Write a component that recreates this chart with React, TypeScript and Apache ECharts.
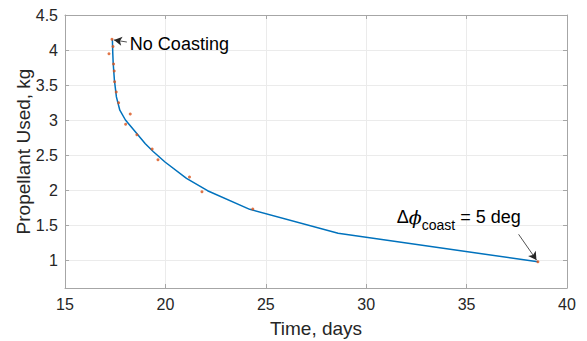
import React, { useEffect, useRef } from "react";
import * as echarts from "echarts";

const lineTime = [17.36, 17.38, 17.4, 17.46, 17.56, 17.73, 18.01, 18.45, 19.0, 19.39, 19.98, 21.05, 22.1, 24.2, 28.6, 38.55];
const lineProp = [4.15, 3.95, 3.81, 3.57, 3.33, 3.14, 3.0, 2.85, 2.66, 2.55, 2.4, 2.167, 1.99, 1.724, 1.381, 0.975];

const dotTime = [17.34, 17.19, 17.39, 17.42, 17.45, 17.47, 17.55, 17.67, 18.25, 18.02, 18.58, 19.34, 19.63, 21.2, 21.82, 24.35, 38.55];
const dotProp = [4.153, 3.947, 4.05, 3.8, 3.7, 3.547, 3.4, 3.247, 3.086, 2.94, 2.79, 2.586, 2.433, 2.186, 1.976, 1.729, 0.976];

const yTicks = [1, 1.5, 2, 2.5, 3, 3.5, 4, 4.5];
const xMin = 15, xMax = 40, xStep = 5;
const yMin = 0.6, yMax = 4.5, yStep = 0.3;

const FONT = "'Liberation Sans', Arial, Helvetica, sans-serif";
const TXT = "#262626";
const AX = "#a6a6a6";
const GRIDC = "#ebebeb";

export default function App() {
  const ref = useRef<HTMLDivElement>(null);
  useEffect(() => {
    if (!ref.current) return;
    const chart = echarts.init(ref.current, undefined, { renderer: "svg" });
    const axisCommon = {
      type: "value" as const,
      axisLine: { show: true, lineStyle: { color: AX, width: 1 } },
      axisTick: { show: true, inside: true, length: 4, lineStyle: { color: AX } },
    };
    chart.setOption({
      animation: false,
      textStyle: { fontFamily: FONT },
      grid: { left: 65, right: 20, top: 15, bottom: 53, containLabel: false, outerBoundsMode: "none" },
      xAxis: [
        {
          ...axisCommon,
          min: xMin,
          max: xMax,
          interval: xStep,
          position: "bottom",
          name: "Time, days",
          nameLocation: "middle",
          nameGap: 31,
          nameMoveOverlap: false,
          nameTextStyle: { color: TXT, fontSize: 19, fontFamily: FONT },
          axisLabel: { color: TXT, fontSize: 16, margin: 8, fontFamily: FONT },
          splitLine: { show: true, lineStyle: { color: GRIDC, width: 1 } },
        },
        {
          ...axisCommon,
          min: xMin,
          max: xMax,
          interval: xStep,
          position: "top",
          axisLabel: { show: false },
          splitLine: { show: false },
        },
      ],
      yAxis: [
        {
          ...axisCommon,
          min: yMin,
          max: yMax,
          interval: yStep,
          position: "left",
          name: "Propellant Used, kg",
          nameLocation: "middle",
          nameGap: 32,
          nameMoveOverlap: false,
          nameTextStyle: { color: TXT, fontSize: 19, fontFamily: FONT },
          axisTick: { show: true, inside: true, length: 4, lineStyle: { color: AX }, customValues: yTicks },
          axisLabel: { color: TXT, fontSize: 16, margin: 7, fontFamily: FONT, customValues: yTicks },
          splitLine: { show: false },
        },
        {
          ...axisCommon,
          min: yMin,
          max: yMax,
          interval: yStep,
          position: "right",
          axisTick: { show: true, inside: true, length: 4, lineStyle: { color: AX }, customValues: yTicks },
          axisLabel: { show: false, customValues: yTicks },
          splitLine: { show: false },
        },
      ],
      series: [
        {
          type: "line",
          silent: true,
          data: [],
          z: 0,
          markLine: {
            silent: true,
            z: 0,
            symbol: "none",
            label: { show: false },
            lineStyle: { color: GRIDC, width: 1, type: "solid" },
            data: yTicks.slice(0, yTicks.length - 1).map((v) => ({ yAxis: v })),
          },
        },
        {
          type: "line",
          data: lineTime.map((t, i) => [t, lineProp[i]]),
          showSymbol: false,
          lineStyle: { color: "#0072BD", width: 1.5 },
          itemStyle: { color: "#0072BD" },
          z: 3,
        },
        {
          type: "scatter",
          data: dotTime.map((t, i) => [t, dotProp[i]]),
          symbol: "circle",
          symbolSize: 3,
          itemStyle: { color: "#D95319" },
          z: 4,
          markLine: {
            silent: true,
            label: { show: false },
            lineStyle: { color: "#262626", width: 0.8, type: "solid" },
            symbolSize: [7, 8],
            data: [
              [
                { coord: [18.08, 4.114], symbol: "none" },
                { coord: [17.44, 4.143], symbol: "arrow" },
              ],
              [
                { coord: [37.59, 1.367], symbol: "none" },
                { coord: [38.48, 1.0], symbol: "arrow" },
              ],
            ],
          },
          markPoint: {
            silent: true,
            symbol: "circle",
            symbolSize: 0,
            data: [
              {
                coord: [18.23, 4.086],
                label: {
                  show: true,
                  position: "inside",
                  align: "left",
                  verticalAlign: "middle",
                  color: "#000",
                  fontSize: 18,
                  fontFamily: FONT,
                  formatter: "No Coasting",
                },
              },
              {
                coord: [31.52, 1.61],
                label: {
                  show: true,
                  position: "inside",
                  align: "left",
                  verticalAlign: "middle",
                  color: "#000",
                  fontSize: 18,
                  fontFamily: FONT,
                  formatter: "{a|Δ}{p|ϕ}{s|coast}{a| = 5 deg}",
                  rich: {
                    a: { fontSize: 18, fontFamily: FONT, color: "#000" },
                    p: { fontSize: 19, fontStyle: "italic", fontFamily: "'DejaVu Serif', serif", color: "#000" },
                    s: { fontSize: 14, fontFamily: FONT, color: "#000", padding: [16, 0, 0, 0] },
                  },
                },
              },
            ],
          },
        },
      ],
    });
    return () => chart.dispose();
  }, []);
  return <div ref={ref} style={{ width: 587, height: 341, position: "absolute", left: 0, top: 0 }} />;
}
